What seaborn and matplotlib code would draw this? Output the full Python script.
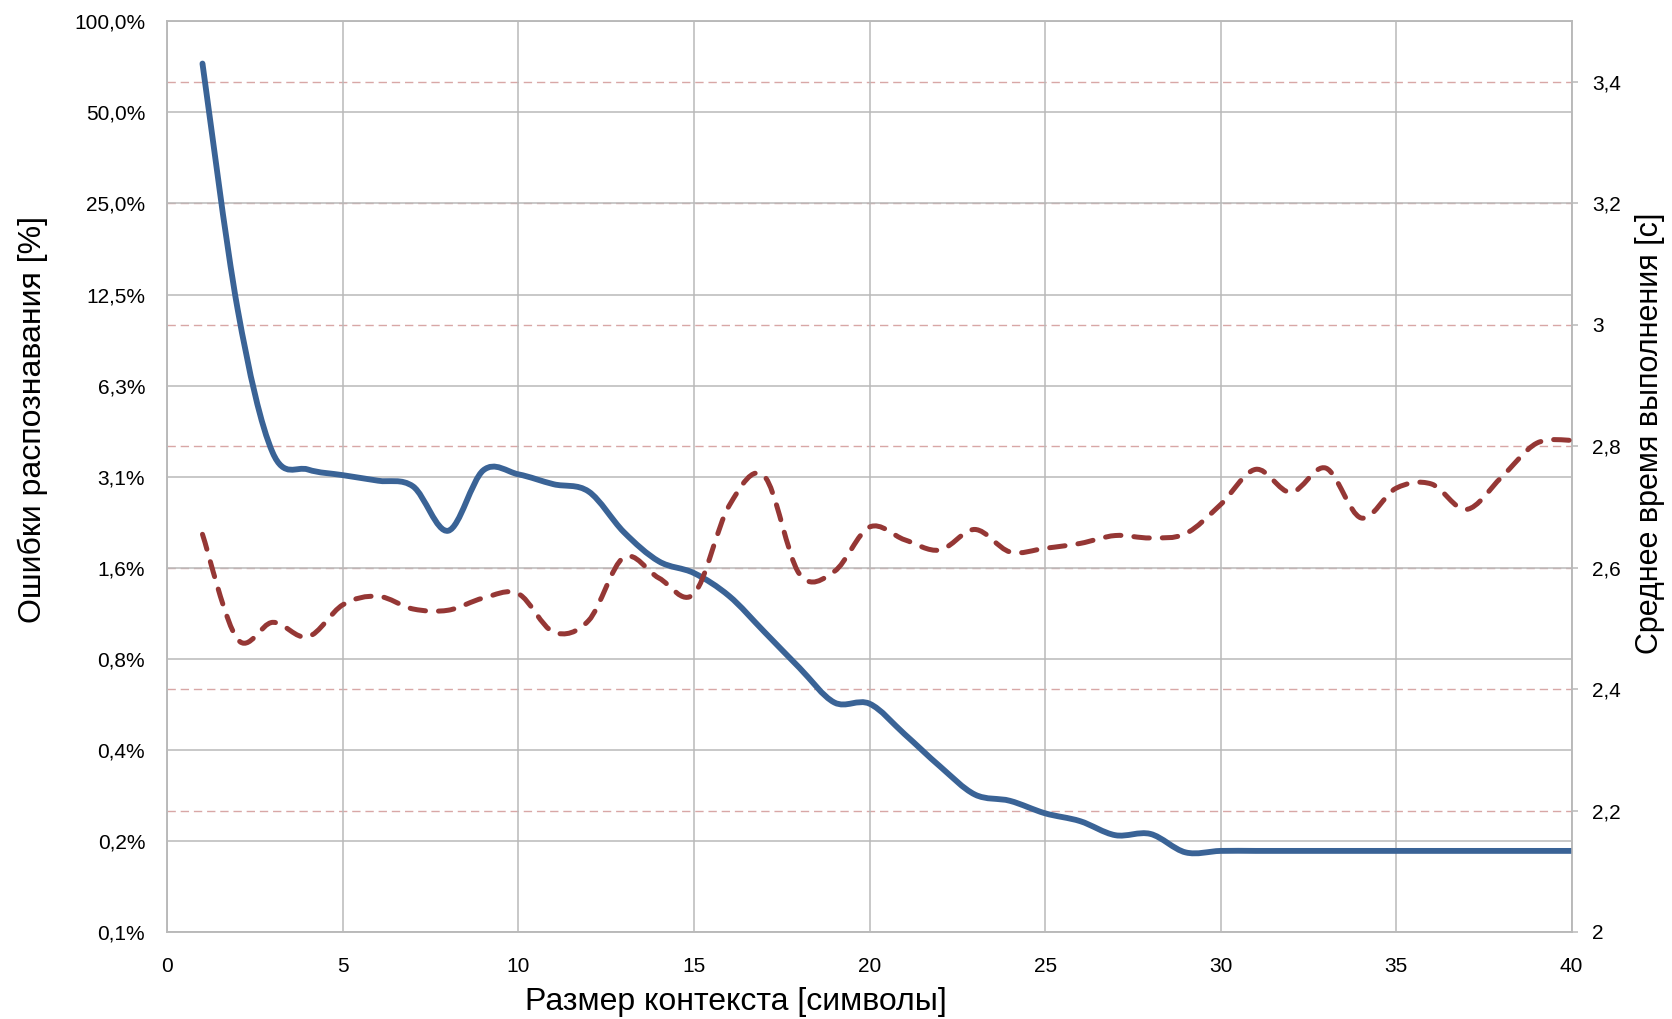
import matplotlib
matplotlib.use('Agg')

import numpy as np
import seaborn as sns
import matplotlib.pyplot as plt
from matplotlib.path import Path
from matplotlib.patches import PathPatch
from matplotlib.ticker import FixedLocator, FixedFormatter
from matplotlib.transforms import blended_transform_factory


context = list(range(1, 41))

error_pct = [72.5, 11.2, 3.75, 3.30, 3.16, 3.03, 2.90, 2.07, 3.28, 3.18,
             2.95, 2.79, 2.05, 1.64, 1.50, 1.26, 0.96, 0.73, 0.56, 0.555,
             0.44, 0.345, 0.278, 0.265, 0.241, 0.227, 0.204, 0.206, 0.179, 0.181,
             0.181, 0.181, 0.181, 0.181, 0.181, 0.181, 0.181, 0.181, 0.181, 0.181]

time_s = [2.655, 2.482, 2.510, 2.486, 2.539, 2.553, 2.532, 2.530, 2.550, 2.557,
          2.494, 2.513, 2.617, 2.583, 2.557, 2.702, 2.751, 2.590, 2.594, 2.667,
          2.646, 2.629, 2.663, 2.626, 2.632, 2.640, 2.653, 2.649, 2.656, 2.704,
          2.762, 2.724, 2.764, 2.682, 2.731, 2.738, 2.696, 2.749, 2.805, 2.810]

err_ticks = [100 / 2 ** k for k in range(11)]
err_labels = ['100,0%', '50,0%', '25,0%', '12,5%', '6,3%', '3,1%',
              '1,6%', '0,8%', '0,4%', '0,2%', '0,1%']
time_ticks = [2.0, 2.2, 2.4, 2.6, 2.8, 3.0, 3.2, 3.4]
time_labels = ['2', '2,2', '2,4', '2,6', '2,8', '3', '3,2', '3,4']
x_ticks = list(range(0, 41, 5))

BLUE = '#3A6396'
RED = '#953735'
GRID = '#B9B9B9'

sns.set_theme(style='white')
plt.rcParams['font.family'] = ['Liberation Sans', 'DejaVu Sans']


def smooth(ax, x, y, log=False, **style):
    # seaborn draws the series, then the polyline is swapped for a
    # smooth bezier through the same points (like Excel's smoothed line)
    sns.lineplot(x=x, y=y, ax=ax, color=style['color'])
    line = ax.lines[-1]
    xs, ys = [np.asarray(a, float) for a in line.get_data()]
    line.remove()
    if log:
        ys = np.log2(ys)
    n = len(xs)
    verts = [(xs[0], ys[0])]
    codes = [Path.MOVETO]
    for i in range(n - 1):
        a = max(i - 1, 0)
        d = min(i + 2, n - 1)
        c1 = (xs[i] + (xs[i + 1] - xs[a]) / 6, ys[i] + (ys[i + 1] - ys[a]) / 6)
        c2 = (xs[i + 1] - (xs[d] - xs[i]) / 6, ys[i + 1] - (ys[d] - ys[i]) / 6)
        verts += [c1, c2, (xs[i + 1], ys[i + 1])]
        codes += [Path.CURVE4] * 3
    verts = np.array(verts)
    if log:
        verts[:, 1] = 2 ** verts[:, 1]
    patch = PathPatch(Path(verts, codes), fill=False, edgecolor=style['color'],
                      lw=style['lw'], linestyle=style.get('ls', '-'),
                      capstyle='round', joinstyle='round', zorder=style.get('z', 3))
    ax.add_patch(patch)


fig = plt.figure(figsize=(16.72, 10.19), dpi=100)
ax1 = fig.add_axes([0.1001, 0.0854, 0.8399, 0.8937])
ax2 = ax1.twinx()

ax1.set_yscale('log', base=2)
ax1.set_xlim(0, 40)
ax1.set_ylim(100 / 1024, 100)
ax2.set_ylim(2.0, 3.5)

ax1.set_axisbelow(True)
ax1.grid(True, color=GRID, lw=1.1, zorder=0.5)
ax1.xaxis.set_major_locator(FixedLocator(x_ticks))
ax1.yaxis.set_major_locator(FixedLocator(err_ticks))
ax1.yaxis.set_major_formatter(FixedFormatter(err_labels))
ax1.yaxis.set_minor_locator(FixedLocator([]))
ax2.yaxis.set_major_locator(FixedLocator(time_ticks))
ax2.yaxis.set_major_formatter(FixedFormatter(time_labels))
ax2.grid(False)

# secondary gridlines drawn on the primary axes so they stay under the curves
tr = blended_transform_factory(ax1.transAxes, ax2.transData)
for v in time_ticks[1:]:
    ax1.plot([0, 1], [v, v], transform=tr, color='#D8A7A6', lw=1.0,
             ls=(0, (6, 3.5)), zorder=0.4)

smooth(ax1, context, error_pct, log=True, color=BLUE, lw=4.2, z=3)
smooth(ax2, context, time_s, color=RED, lw=3.6, ls=(0, (3.1, 2.6)), z=3)
ax2.patch.set_visible(False)

for ax in (ax1, ax2):
    for s in ax.spines.values():
        s.set_color(GRID)
        s.set_linewidth(1.1)

ax1.tick_params(axis='both', length=0, labelsize=15, colors='black')
ax1.tick_params(axis='y', pad=16)
ax1.tick_params(axis='x', pad=18)
ax2.tick_params(axis='y', length=4.5, width=1.1, color=GRID, direction='out',
                labelsize=15, pad=10, labelcolor='black')

ax1.set_xlabel('Размер контекста [символы]', fontsize=23, va='center', color='black')
ax1.set_ylabel('Ошибки распознавания [%]', fontsize=23, va='center', color='black')
ax2.set_ylabel('Среднее время выполнения [с]', fontsize=22, va='center', color='black')
ax1.xaxis.set_label_coords(0.405, -0.077)
ax1.yaxis.set_label_coords(-0.0957, 0.563)
ax2.yaxis.set_label_coords(1.056, 0.548)

fig.savefig('out.png', dpi=100)
plt.close(fig)
